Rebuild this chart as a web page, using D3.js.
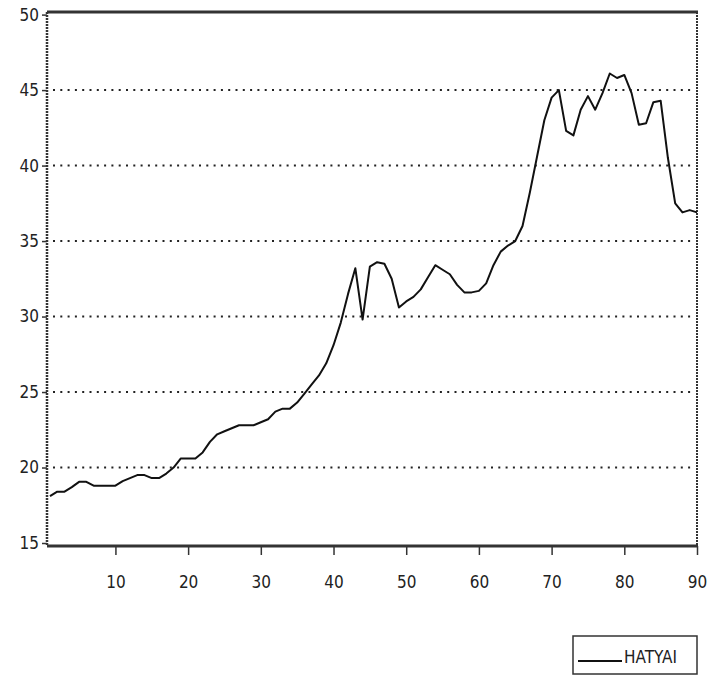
<!DOCTYPE html>
<html>
<head>
<meta charset="utf-8">
<script src="https://cdn.jsdelivr.net/npm/d3@7"></script>
<style>
  body { margin: 0; background: #fff; }
  text { font-family: "DejaVu Sans Condensed", "Liberation Sans Narrow", sans-serif; fill: #222; }
</style>
</head>
<body>
<div id="chart"></div>
<script>
// observation index 1..90
const obs = d3.range(1, 91);

// HATYAI series
const hatyai = [
  18.1, 18.4, 18.4, 18.7, 19.05, 19.05, 18.8, 18.8, 18.8, 18.8,
  19.1, 19.3, 19.5, 19.5, 19.3, 19.3, 19.6, 20.0, 20.6, 20.6,
  20.6, 21.0, 21.7, 22.2, 22.4, 22.6, 22.8, 22.8, 22.8, 23.0,
  23.2, 23.7, 23.9, 23.9, 24.3, 24.9, 25.5, 26.1, 26.9, 28.1,
  29.6, 31.5, 33.2, 29.8, 33.3, 33.6, 33.5, 32.5, 30.6, 31.0,
  31.3, 31.8, 32.6, 33.4, 33.1, 32.8, 32.1, 31.6, 31.6, 31.7,
  32.2, 33.4, 34.3, 34.7, 35.0, 36.0, 38.2, 40.6, 43.0, 44.5,
  45.0, 42.3, 42.0, 43.7, 44.6, 43.7, 44.8, 46.1, 45.8, 46.0,
  44.8, 42.7, 42.8, 44.2, 44.3, 40.5, 37.5, 36.9, 37.05, 36.9
];

const yTicks = [15, 20, 25, 30, 35, 40, 45, 50];
const xTicks = [10, 20, 30, 40, 50, 60, 70, 80, 90];
const seriesName = "HATYAI";

const width = 708, height = 681;
const plotLeft = 47, plotRight = 697, plotTop = 12, plotBottom = 546;

const svg = d3.select("#chart").append("svg")
    .attr("width", width)
    .attr("height", height);

const x = d3.scaleLinear().domain([1, 90]).range([50, plotRight]);
const y = d3.scaleLinear().domain([15, 50]).range([543, 14.6]);

// dotted grid lines
svg.append("g")
  .selectAll("line")
  .data(yTicks.filter(d => d > 15 && d < 50))
  .join("line")
    .attr("x1", plotLeft + 6)
    .attr("x2", plotRight - 3)
    .attr("y1", d => y(d))
    .attr("y2", d => y(d))
    .attr("stroke", "#222")
    .attr("stroke-width", 2)
    .attr("stroke-dasharray", "2,5.3");

// frame
svg.append("line").attr("x1", plotLeft).attr("x2", plotRight + 1).attr("y1", plotTop).attr("y2", plotTop)
    .attr("stroke", "#333").attr("stroke-width", 3);
svg.append("line").attr("x1", plotLeft).attr("x2", plotRight + 1).attr("y1", plotBottom).attr("y2", plotBottom)
    .attr("stroke", "#333").attr("stroke-width", 3);
svg.append("line").attr("x1", plotRight).attr("x2", plotRight).attr("y1", plotTop).attr("y2", plotBottom)
    .attr("stroke", "#333").attr("stroke-width", 2)
    .attr("stroke-dasharray", "2,1");
svg.append("line").attr("x1", plotLeft).attr("x2", plotLeft).attr("y1", plotTop).attr("y2", plotBottom)
    .attr("stroke", "#333").attr("stroke-width", 2.5)
    .attr("stroke-dasharray", "2,1");

// y axis
const yAxis = svg.append("g")
    .attr("transform", `translate(${plotLeft},0)`)
    .call(d3.axisLeft(y).tickValues(yTicks).tickSize(5).tickFormat(d3.format("d")));
yAxis.select(".domain").remove();
yAxis.selectAll(".tick line").attr("stroke", "#333").attr("stroke-width", 1.5);
yAxis.selectAll(".tick text")
    .attr("x", -8)
    .attr("font-size", 17)
    .attr("fill", "#222");

// x axis
const xAxis = svg.append("g")
    .attr("transform", `translate(0,${plotBottom})`)
    .call(d3.axisBottom(x).tickValues(xTicks).tickSize(9).tickFormat(d3.format("d")));
xAxis.select(".domain").remove();
xAxis.selectAll(".tick line").attr("stroke", "#333").attr("stroke-width", 1.5);
xAxis.selectAll(".tick text")
    .attr("y", 30)
    .attr("font-size", 17)
    .attr("fill", "#222");

// series line
const line = d3.line()
    .x((d, i) => x(obs[i]))
    .y(d => y(d));

svg.append("path")
    .datum(hatyai)
    .attr("fill", "none")
    .attr("stroke", "#111")
    .attr("stroke-width", 2)
    .attr("stroke-linejoin", "round")
    .attr("d", line);

// legend
const lg = svg.append("g").attr("transform", "translate(573,636)");
lg.append("rect")
    .attr("width", 124)
    .attr("height", 38)
    .attr("fill", "none")
    .attr("stroke", "#333")
    .attr("stroke-width", 1.5);
lg.append("line")
    .attr("x1", 5).attr("x2", 49)
    .attr("y1", 25).attr("y2", 25)
    .attr("stroke", "#111").attr("stroke-width", 1.8);
lg.append("text")
    .attr("x", 51)
    .attr("y", 27)
    .attr("font-size", 17)
    .text(seriesName);
</script>
</body>
</html>
